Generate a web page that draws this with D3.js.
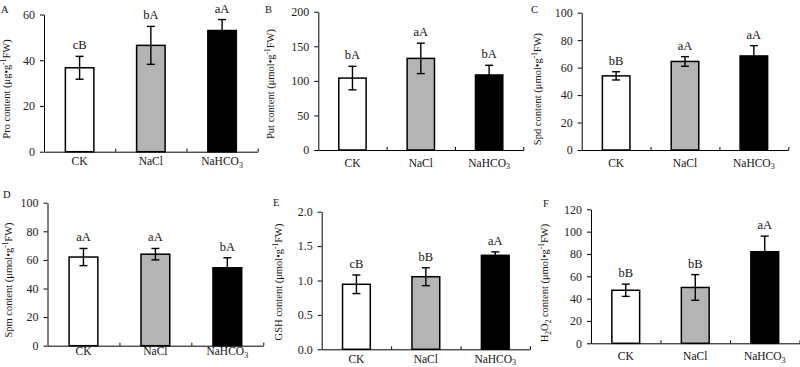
<!DOCTYPE html>
<html>
<head>
<meta charset="utf-8">
<script src="https://cdn.jsdelivr.net/npm/d3@7.9.0/dist/d3.min.js"></script>
<style>
  body { margin: 0; background: #fff; }
  svg { display: block; font-family: "Liberation Serif", "Times New Roman", serif; }
  .axis path, .axis line { stroke: #000; }
  .axis text { font-family: "Liberation Serif", serif; font-size: 12px; fill: #222; }
</style>
</head>
<body>
<svg id="chart" width="800" height="367"></svg>
<script>
// treatments on the x axis
const categories = ["CK", "NaCl", "NaHCO3"];
const fills = ["#ffffff", "#b4b4b4", "#000000"];

// A: proline
const proMean = [36.7, 46.5, 53.0];
const proErr = [5.0, 8.3, 4.8];
const proSig = ["cB", "bA", "aA"];
// B: putrescine
const putMean = [104, 132.5, 108.5];
const putErr = [17, 22, 14];
const putSig = ["bA", "aA", "bA"];
// C: spermidine
const spdMean = [54, 64.5, 68.5];
const spdErr = [3, 3.5, 7.5];
const spdSig = ["bB", "aA", "aA"];
// D: spermine
const spmMean = [62, 64, 54.5];
const spmErr = [6, 4, 7];
const spmSig = ["aA", "aA", "bA"];
// E: glutathione
const gshMean = [0.945, 1.055, 1.366];
const gshErr = [0.135, 0.13, 0.05];
const gshSig = ["cB", "bB", "aA"];
// F: hydrogen peroxide
const h2o2Mean = [47.5, 50, 82];
const h2o2Err = [5.5, 11.5, 14];
const h2o2Sig = ["bB", "bB", "aA"];

// y axis domains and tick steps
const yMaxes = [60, 200, 100, 100, 2.0, 120];
const ySteps = [20, 50, 20, 20, 0.5, 20];
const panelLetters = ["A", "B", "C", "D", "E", "F"];
const yTitles = [
  [{ t: "Pro content (μg•g" }, { t: "-1", s: "sup" }, { t: "FW)" }],
  [{ t: "Put content (μmol•g" }, { t: "-1", s: "sup" }, { t: "FW)" }],
  [{ t: "Spd content (μmol•g" }, { t: "-1", s: "sup" }, { t: "FW)" }],
  [{ t: "Spm content (μmol•g" }, { t: "-1", s: "sup" }, { t: "FW)" }],
  [{ t: "GSH content  (μmol•g" }, { t: "-1", s: "sup" }, { t: "FW)" }],
  [{ t: "H" }, { t: "2", s: "sub" }, { t: "O" }, { t: "2", s: "sub" }, { t: " content (μmol•g" }, { t: "-1", s: "sup" }, { t: "FW)" }],
];

const means = [proMean, putMean, spdMean, spmMean, gshMean, h2o2Mean];
const errs = [proErr, putErr, spdErr, spmErr, gshErr, h2o2Err];
const sigs = [proSig, putSig, spdSig, spmSig, gshSig, h2o2Sig];

// page layout of each panel (plot box, title spots)
const layout = [
  { l: 44, r: 257.7, t: 14.5, b: 151.7, catY: 165, titleX: 9.5, titleY: 89, letterX: 1, letterY: 13 },
  { l: 318.3, r: 523.3, t: 11.7, b: 150, catY: 166.5, titleX: 274, titleY: 84, letterX: 265, letterY: 13 },
  { l: 581.7, r: 788.3, t: 12.7, b: 150, catY: 166.5, titleX: 541, titleY: 89, letterX: 531, letterY: 13 },
  { l: 47.5, r: 263.3, t: 202.7, b: 345.7, catY: 355, titleX: 12, titleY: 280, letterX: 3, letterY: 198 },
  { l: 321.7, r: 530, t: 211.7, b: 349.3, catY: 362.5, titleX: 282, titleY: 282, letterX: 273, letterY: 206 },
  { l: 591, r: 799.5, t: 209.3, b: 343.3, catY: 360, titleX: 548, titleY: 283, letterX: 543, letterY: 207 },
];

const svg = d3.select("#chart");

function richText(sel, parts, size) {
  let shift = 0;
  parts.forEach((p) => {
    const target = p.s === "sup" ? -size * 0.35 : p.s === "sub" ? size * 0.25 : 0;
    sel.append("tspan")
      .attr("dy", target - shift)
      .attr("font-size", p.s ? size * 0.7 : size)
      .text(p.t);
    shift = target;
  });
}

function catLabel(name) {
  const m = name.match(/^(.*?)(\d+)$/);
  return m ? [{ t: m[1] }, { t: m[2], s: "sub" }] : [{ t: name }];
}

layout.forEach((box, i) => {
  const g = svg.append("g");
  const mean = means[i];
  const err = errs[i];
  const sig = sigs[i];

  const x = d3.scaleBand()
    .domain(categories)
    .range([box.l, box.r])
    .paddingInner(0.6)
    .paddingOuter(0.3);
  const xEdge = d3.scaleLinear().domain([0, 3]).range([box.l, box.r]);
  const y = d3.scaleLinear().domain([0, yMaxes[i]]).range([box.b, box.t]);

  const rows = categories.map((c, k) => ({ c, k, v: mean[k], e: err[k], s: sig[k] }));

  // bars
  g.selectAll("rect.bar")
    .data(rows)
    .join("rect")
    .attr("class", "bar")
    .attr("x", (d) => x(d.c))
    .attr("y", (d) => y(d.v))
    .attr("width", x.bandwidth())
    .attr("height", (d) => y(0) - y(d.v))
    .attr("fill", (d) => fills[d.k])
    .attr("stroke", "#000")
    .attr("stroke-width", 1.5);

  // error bars
  const cap = 4;
  const eb = g.selectAll("g.err").data(rows).join("g").attr("class", "err")
    .attr("stroke", "#000").attr("stroke-width", 1.4);
  eb.append("line")
    .attr("x1", (d) => x(d.c) + x.bandwidth() / 2)
    .attr("x2", (d) => x(d.c) + x.bandwidth() / 2)
    .attr("y1", (d) => y(d.v + d.e))
    .attr("y2", (d) => y(d.v - d.e));
  eb.append("line")
    .attr("x1", (d) => x(d.c) + x.bandwidth() / 2 - cap)
    .attr("x2", (d) => x(d.c) + x.bandwidth() / 2 + cap)
    .attr("y1", (d) => y(d.v + d.e))
    .attr("y2", (d) => y(d.v + d.e));
  eb.append("line")
    .attr("x1", (d) => x(d.c) + x.bandwidth() / 2 - cap)
    .attr("x2", (d) => x(d.c) + x.bandwidth() / 2 + cap)
    .attr("y1", (d) => y(d.v - d.e))
    .attr("y2", (d) => y(d.v - d.e));

  // significance letters
  g.selectAll("text.sig")
    .data(rows)
    .join("text")
    .attr("class", "sig")
    .attr("x", (d) => x(d.c) + x.bandwidth() / 2)
    .attr("y", (d) => y(d.v + d.e) - 7)
    .attr("text-anchor", "middle")
    .attr("font-size", 12.5)
    .attr("fill", "#111")
    .text((d) => d.s);

  // y axis
  const ticks = d3.range(0, yMaxes[i] + ySteps[i] / 2, ySteps[i]);
  g.append("g")
    .attr("class", "axis")
    .attr("transform", `translate(${box.l},0)`)
    .call(d3.axisLeft(y).tickValues(ticks).tickSize(4).tickSizeOuter(0).tickPadding(5)
      .tickFormat(ySteps[i] < 1 ? d3.format(".1f") : d3.format("d")));

  // x axis line with boundary ticks
  g.append("g")
    .attr("class", "axis")
    .attr("transform", `translate(0,${box.b})`)
    .call(d3.axisBottom(xEdge).tickValues([1, 2, 3]).tickSize(-3).tickSizeOuter(0).tickFormat(""));

  // category labels
  rows.forEach((d) => {
    const t = g.append("text")
      .attr("x", x(d.c) + x.bandwidth() / 2)
      .attr("y", box.catY)
      .attr("dy", "0.35em")
      .attr("text-anchor", "middle")
      .attr("fill", "#111");
    richText(t, catLabel(d.c), 11.5);
  });

  // y title
  const yt = g.append("text")
    .attr("transform", `translate(${box.titleX},${box.titleY}) rotate(-90)`)
    .attr("text-anchor", "middle")
    .attr("dy", "0.35em")
    .attr("fill", "#111");
  richText(yt, yTitles[i], 10.5);

  // panel letter
  g.append("text")
    .attr("x", box.letterX)
    .attr("y", box.letterY)
    .attr("font-size", 10.5)
    .attr("fill", "#111")
    .text(panelLetters[i]);
});
</script>
</body>
</html>
